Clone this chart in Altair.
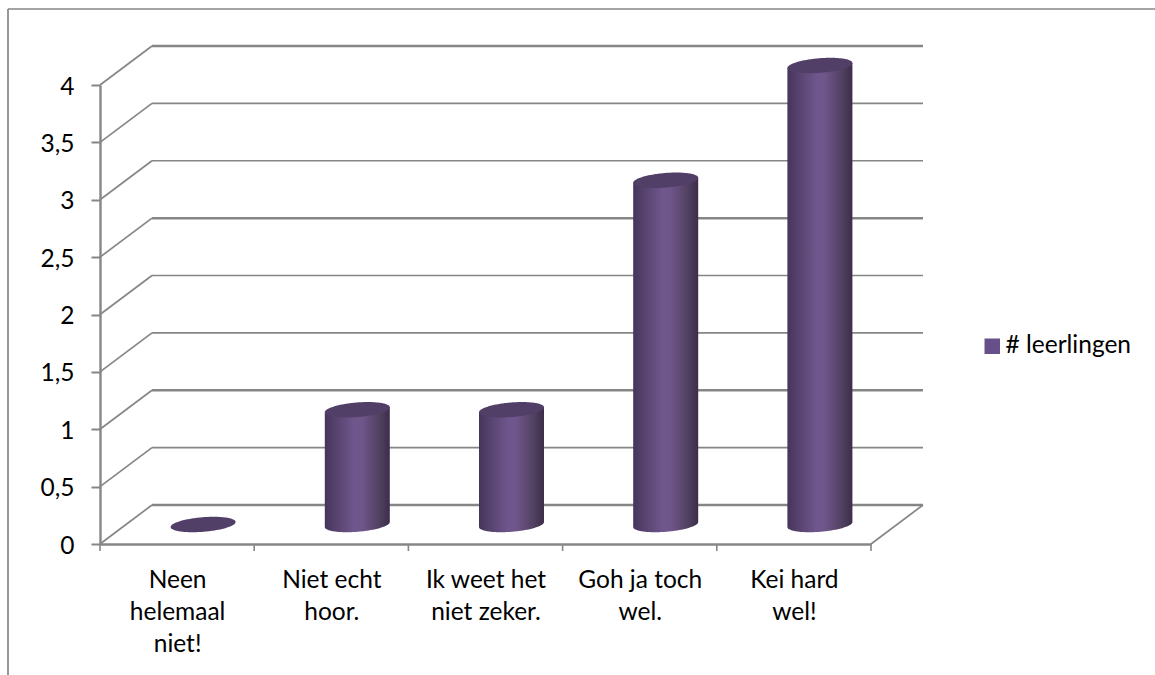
import json
import numpy as np
import pandas as pd
import altair as alt

# Survey results
categories = ["Neen helemaal niet!", "Niet echt hoor.", "Ik weet het niet zeker.", "Goh ja toch wel.", "Kei hard wel!"]
category_lines = [["Neen", "helemaal", "niet!"], ["Niet echt", "hoor."], ["Ik weet het", "niet zeker."], ["Goh ja toch", "wel."], ["Kei hard", "wel!"]]
values = [0, 1, 1, 3, 4]
series_name = "# leerlingen"

# Value levels of the wall grid; the heavier ones are listed apart
grid_levels = [0, 0.5, 1, 1.5, 2, 2.5, 3, 3.5, 4]
heavy_levels = [0, 1, 2.5, 4]

# Plot size and the oblique projection of the depth axis
PLOT_W, PLOT_H = 771, 459
PAD_L, PAD_T = 100, 85
PX_PER_CAT = PLOT_W / 5
PX_PER_UNIT = PLOT_H / 4
DEPTH_X = 52 / PX_PER_CAT
DEPTH_Y = 39 / PX_PER_UNIT

# Cylinder cross-section: half width, half height and shear, in pixels
CYL_RX, CYL_RY, CYL_SHEAR = 32.5, 7.3, 2.5

GREY = "#868686"
TEXT_FONT = "Lato"
TEXT_SIZE = 24.5

# Side-wall slants and back-wall lines of the grid
slant_rows, back_rows = [], []
for level in grid_levels:
    slant_rows += [
        {"level": level, "order": 0, "cx": 0, "v": level},
        {"level": level, "order": 1, "cx": DEPTH_X, "v": level + DEPTH_Y},
    ]
    back_rows += [
        {"level": level, "order": 0, "cx": DEPTH_X, "v": level + DEPTH_Y},
        {"level": level, "order": 1, "cx": 5 + DEPTH_X, "v": level + DEPTH_Y},
    ]
slant_df = pd.DataFrame(slant_rows)
back_df = pd.DataFrame(back_rows)
back_df["heavy"] = back_df["level"].isin(heavy_levels)

floor_edge_df = pd.DataFrame({"cx": [5, 5 + DEPTH_X], "v": [0, DEPTH_Y]})

# Outline samples across one cylinder, bunched towards the round ends
t = np.linspace(np.pi, 0, 81)
unit_x = np.cos(t)
bulge = np.sin(t)

body_rows, cap_rows = [], []
for i, (cat, val) in enumerate(zip(categories, values)):
    center = i + 0.5 + DEPTH_X / 2
    base = DEPTH_Y / 2
    for ux, b in zip(unit_x, bulge):
        cx = center + ux * CYL_RX / PX_PER_CAT
        tilt = ux * CYL_SHEAR / PX_PER_UNIT
        round_off = b * CYL_RY / PX_PER_UNIT
        if val > 0:
            body_rows.append({"cat": cat, "cx": cx, "top": val + base + tilt, "bottom": base + tilt - round_off})
        cap_rows.append({"cat": cat, "cx": cx,
                         "upper": val + base + tilt + round_off, "lower": val + base + tilt - round_off})
body_df = pd.DataFrame(body_rows)
cap_df = pd.DataFrame(cap_rows)

x_scale = alt.Scale(domain=[0, 5], nice=False, zero=False)
y_scale = alt.Scale(domain=[0, 4], nice=False, zero=False)

x_axis = alt.Axis(
    values=[i + 0.5 for i in range(5)], title=None, grid=False, ticks=False,
    domainColor=GREY, domainWidth=2.4, labelFont=TEXT_FONT, labelFontSize=TEXT_SIZE, labelColor="#000000",
    labelPadding=36, labelLineHeight=32, labelAngle=0, labelOverlap=False, labelFlush=False, labelBound=False,
    labelBaseline="middle",
    labelExpr=f"{json.dumps(category_lines)}[floor(datum.value)]",
)
y_axis = alt.Axis(
    values=grid_levels, title=None, grid=False, tickColor=GREY, tickWidth=2, tickSize=9,
    domainColor=GREY, domainWidth=2.4, labelFont=TEXT_FONT, labelFontSize=TEXT_SIZE, labelColor="#000000",
    labelPadding=17, labelOffset=2, labelOverlap=False, labelFlush=False, labelBound=False,
    labelExpr="replace(toString(datum.value), '.', ',')",
)

slants = alt.Chart(slant_df).mark_line(color=GREY, strokeWidth=1.7).encode(
    x=alt.X("cx:Q", scale=x_scale, axis=x_axis),
    y=alt.Y("v:Q", scale=y_scale, axis=y_axis),
    detail="level:N",
    order="order:Q",
)

back_lines = alt.Chart(back_df).mark_line(color=GREY).encode(
    x=alt.X("cx:Q", scale=x_scale),
    y=alt.Y("v:Q", scale=y_scale),
    detail="level:N",
    order="order:Q",
    strokeWidth=alt.condition("datum.heavy", alt.value(2.5), alt.value(1.7)),
)

floor_edge = alt.Chart(floor_edge_df).mark_line(color=GREY, strokeWidth=1.7).encode(
    x=alt.X("cx:Q", scale=x_scale), y=alt.Y("v:Q", scale=y_scale)
)

x_ticks = alt.Chart(pd.DataFrame({"cx": list(range(6))})).mark_rule(color=GREY, strokeWidth=1.6).encode(
    x=alt.X("cx:Q", scale=x_scale),
    y=alt.value(PLOT_H),
    y2=alt.value(PLOT_H + 7),
)

body = alt.Chart(body_df).mark_area(
    interpolate="linear",
    color={
        "gradient": "linear", "x1": 0, "x2": 1, "y1": 0, "y2": 0,
        "stops": [
            {"offset": 0, "color": "#44345a"},
            {"offset": 0.12, "color": "#523f68"},
            {"offset": 0.45, "color": "#6f568c"},
            {"offset": 0.58, "color": "#6e558a"},
            {"offset": 0.85, "color": "#50405f"},
            {"offset": 1, "color": "#3b2d4b"},
        ],
    },
).encode(
    x=alt.X("cx:Q", scale=x_scale),
    y=alt.Y("top:Q", scale=y_scale, stack=None),
    y2="bottom:Q",
    detail="cat:N",
)

cap = alt.Chart(cap_df).mark_area(interpolate="linear", color="#523f68").encode(
    x=alt.X("cx:Q", scale=x_scale),
    y=alt.Y("upper:Q", scale=y_scale, stack=None),
    y2="lower:Q",
    detail="cat:N",
)

# Zero-sized squares whose only visible trace is the legend entry
legend_key = alt.Chart(pd.DataFrame({"serie": [series_name], "cx": [0], "v": [0]})).mark_square(size=0, opacity=1).encode(
    x=alt.X("cx:Q", scale=x_scale),
    y=alt.Y("v:Q", scale=y_scale),
    color=alt.Color(
        "serie:N",
        scale=alt.Scale(range=["#674f89"]),
        legend=alt.Legend(
            title=None, orient="none", legendX=980 - PAD_L, legendY=334 - PAD_T,
            symbolType="square", symbolSize=240, symbolStrokeWidth=0,
            labelFont=TEXT_FONT, labelFontSize=TEXT_SIZE, labelColor="#000000", labelOffset=1, padding=0,
        ),
    ),
)

# Chart-area border: left and top edges only
frame_left = alt.Chart(pd.DataFrame({"a": [0]})).mark_rule(color=GREY, strokeWidth=1.7).encode(
    x=alt.value(8 - PAD_L), y=alt.value(9 - PAD_T), y2=alt.value(675 - PAD_T)
)
frame_top = alt.Chart(pd.DataFrame({"a": [0]})).mark_rule(color=GREY, strokeWidth=1.7).encode(
    y=alt.value(9 - PAD_T), x=alt.value(8 - PAD_L), x2=alt.value(1155 - PAD_L)
)

chart = alt.layer(frame_left, frame_top, slants, back_lines, floor_edge, x_ticks, body, cap, legend_key).properties(
    width=PLOT_W, height=PLOT_H,
    padding={"left": PAD_L, "top": PAD_T, "right": 1155 - PAD_L - PLOT_W, "bottom": 675 - PAD_T - PLOT_H},
    autosize=alt.AutoSizeParams(type="none"),
    background="#ffffff",
).configure_view(stroke=None)

chart.save("out.html", embed_options={"renderer": "svg", "actions": False})
